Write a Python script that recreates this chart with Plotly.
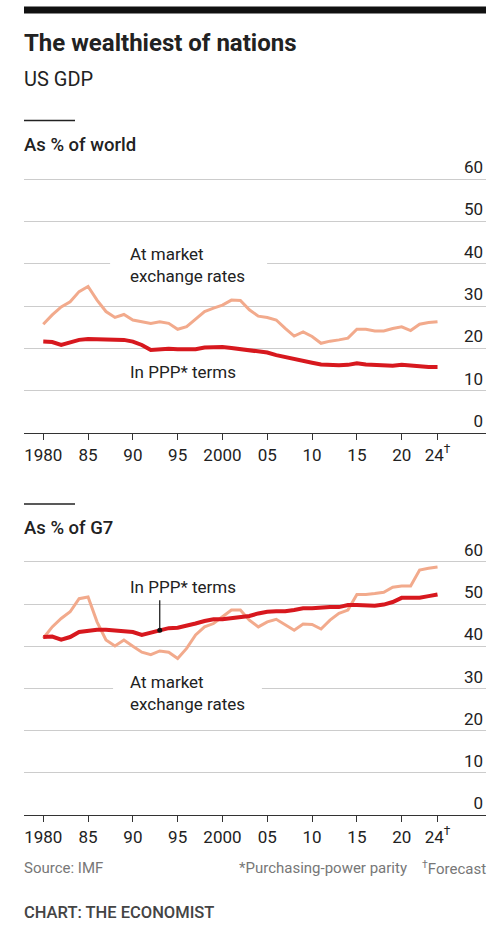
import plotly.graph_objects as go
from plotly.subplots import make_subplots

years = list(range(1980, 2025))

world_market = [25.7, 27.9, 29.8, 31.0, 33.4, 34.6, 31.4, 28.7, 27.3, 28.0,
                26.7, 26.3, 25.9, 26.3, 25.9, 24.5, 25.1, 26.9, 28.7, 29.5,
                30.2, 31.4, 31.3, 29.1, 27.6, 27.3, 26.7, 24.7, 22.9, 23.9,
                22.8, 21.2, 21.7, 22.0, 22.4, 24.5, 24.5, 24.1, 24.1, 24.7,
                25.1, 24.2, 25.7, 26.1, 26.3]
world_ppp = [21.6, 21.5, 20.8, 21.5, 22.0, 22.2, 22.2, 22.1, 22.1, 22.0,
             21.6, 20.8, 19.6, 19.8, 19.9, 19.8, 19.8, 19.8, 20.2, 20.3,
             20.3, 20.1, 19.8, 19.6, 19.4, 19.0, 18.4, 17.9, 17.4, 17.1,
             16.6, 16.2, 16.0, 16.0, 16.1, 16.5, 16.2, 16.1, 15.9, 15.9,
             16.1, 15.9, 15.7, 15.6, 15.6]
g7_market = [41.9, 44.6, 46.6, 48.2, 51.3, 51.7, 45.8, 41.5, 40.1, 41.5,
             40.0, 38.6, 38.0, 38.9, 38.6, 37.1, 39.5, 42.7, 44.6, 45.4,
             47.0, 48.6, 48.6, 46.2, 44.6, 45.8, 46.4, 45.0, 43.8, 45.3,
             45.2, 44.1, 46.2, 47.8, 48.6, 52.3, 52.3, 52.5, 52.8, 54.0,
             54.3, 54.3, 58.1, 58.5, 58.8]
g7_ppp = [42.2, 42.3, 41.6, 42.2, 43.4, 43.7, 43.9, 43.9, 43.7, 43.7,
          43.4, 42.7, 43.3, 43.8, 44.3, 44.4, 44.8, 45.4, 46.0, 46.4,
          46.4, 46.6, 46.8, 47.2, 47.8, 48.2, 48.3, 48.3, 48.6, 49.0,
          49.0, 49.2, 49.3, 49.3, 49.8, 49.8, 49.6, 49.6, 49.9, 50.5,
          51.5, 51.5, 51.5, 51.9, 52.3]

x_tickvals = [1980, 1985, 1990, 1995, 2000, 2005, 2010, 2015, 2020, 2024]
x_ticktext = ["1980", "85", "90", "95", "2000", "05", "10", "15", "20", "24<sup>†</sup>"]
y_tickvals = [0, 10, 20, 30, 40, 50, 60]

W, H = 500, 932
FONT = "Roboto"
DARK = "#d7181e"
LIGHT = "#f2aa8c"
TXT = "#222222"
GRID = "#cccccc"


def py(p):
    return 1 - p / H


def px(p):
    return p / W


fig = make_subplots(rows=2, cols=1)

for row, market, ppp in [(1, world_market, world_ppp), (2, g7_market, g7_ppp)]:
    fig.add_trace(go.Scatter(x=years, y=market, mode="lines",
                             line=dict(color=LIGHT, width=3), hoverinfo="skip"),
                  row=row, col=1)
    fig.add_trace(go.Scatter(x=years, y=ppp, mode="lines",
                             line=dict(color=DARK, width=4), hoverinfo="skip"),
                  row=row, col=1)

YTOP = 70  # headroom so the top tick label stays inside the plot area
xrange = [1977.85, 2029.41]
common_x = dict(range=xrange, tickvals=x_tickvals, ticktext=x_ticktext,
                showgrid=False, zeroline=False, showline=True, linecolor="#333",
                linewidth=1.3, ticks="outside", ticklen=6, tickwidth=1.2,
                tickcolor="#333", tickfont=dict(family=FONT, size=17, color=TXT),
                fixedrange=True)
common_y = dict(range=[0, YTOP], tickvals=y_tickvals, side="right",
                ticklabelposition="inside top", showgrid=True, gridcolor=GRID,
                gridwidth=1, zeroline=False, showline=False, ticks="",
                tickfont=dict(family=FONT, size=17, color=TXT), fixedrange=True)

fig.update_layout(
    width=W, height=H, autosize=False,
    margin=dict(l=0, r=0, t=0, b=0),
    paper_bgcolor="white", plot_bgcolor="white",
    showlegend=False,
    xaxis=dict(domain=[px(24), px(486)], anchor="y", **common_x),
    yaxis=dict(domain=[py(433), py(179 - 4.23 * (YTOP - 60))], anchor="x", **common_y),
    xaxis2=dict(domain=[px(24), px(486)], anchor="y2", **common_x),
    yaxis2=dict(domain=[py(815), py(562 - 4.22 * (YTOP - 60))], anchor="x2", **common_y),
)

shapes = []
shapes.append(dict(type="rect", xref="paper", yref="paper", x0=px(24), x1=px(486),
                   y0=py(13.5), y1=py(6.5), fillcolor="#111", line=dict(width=0)))
for yy in [120.5, 504]:
    shapes.append(dict(type="line", xref="paper", yref="paper", x0=px(24), x1=px(75),
                       y0=py(yy), y1=py(yy), line=dict(color="#222", width=1.5)))
shapes.append(dict(type="rect", xref="x", yref="y", x0=1987.46, x1=2004.98,
                   y0=38, y1=42, fillcolor="white", line=dict(width=0), layer="between"))
shapes.append(dict(type="rect", xref="x2", yref="y2", x0=1987.79, x1=2004.4,
                   y0=28, y1=32, fillcolor="white", line=dict(width=0), layer="between"))
i93 = years.index(1993)
shapes.append(dict(type="line", xref="x2", yref="y2", x0=1993, x1=1993,
                   y0=50.9, y1=g7_ppp[i93], line=dict(color="#111", width=1.2)))
fig.update_layout(shapes=shapes)

fig.add_trace(go.Scatter(x=[1993], y=[g7_ppp[i93]], mode="markers",
                         marker=dict(color="#111", size=5), hoverinfo="skip"),
              row=2, col=1)

ann = []


def text(x, y, s, size, color=TXT, xanchor="left", xref="paper", yref="paper",
         weight=None):
    f = dict(family=FONT, size=size, color=color)
    if weight:
        f["weight"] = weight
    ann.append(dict(x=x, y=y, xref=xref, yref=yref, text=s, showarrow=False,
                    xanchor=xanchor, yanchor="middle", align="left", font=f))


text(px(22), py(43), "The wealthiest of nations", 24, weight=700)
text(px(22), py(79), "US GDP", 20)
text(px(22), py(145), "As % of world", 18.5, weight=500)
text(px(22), py(528), "As % of G7", 18.5, weight=500)

text(1989.45, 39.6, "At market<br>exchange rates", 17, xref="x", yref="y")
text(1989.45, 14.4, "In PPP* terms", 17, xref="x", yref="y")
text(1989.45, 54.0, "In PPP* terms", 17, xref="x2", yref="y2")
text(1989.45, 28.9, "At market<br>exchange rates", 17, xref="x2", yref="y2")

text(px(22), py(868), "Source: IMF", 15, color="#777")
text(px(409), py(868), "*Purchasing-power parity", 15, color="#777", xanchor="right")
text(px(488), py(868), "<sup>†</sup>Forecast", 15, color="#777", xanchor="right")
text(px(22), py(912), "CHART: THE ECONOMIST", 16.5, color="#444", weight=500)

fig.update_layout(annotations=ann)

fig.write_html("out.html", config={"displayModeBar": False},
               post_script="document.body.style.margin='0';")
